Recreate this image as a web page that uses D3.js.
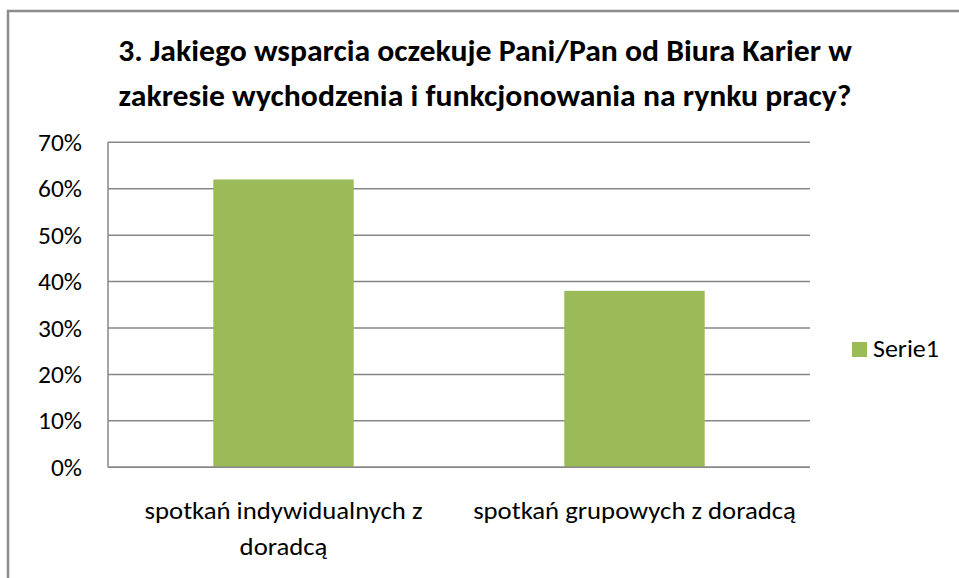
<!DOCTYPE html>
<html><head><meta charset="utf-8">
<script src="https://cdn.jsdelivr.net/npm/d3@7"></script>
<style>body{margin:0;background:#fff} svg{display:block}</style>
</head><body><svg id="c" width="959" height="578"></svg>
<script>
// ---- data ----
const titleLines = ["3. Jakiego wsparcia oczekuje Pani/Pan od Biura Karier w", "zakresie wychodzenia i funkcjonowania na rynku pracy?"];
const categories = ["spotkań indywidualnych z doradcą", "spotkań grupowych z doradcą"];
const values = [0.62, 0.38];
const seriesName = "Serie1";
const yTicks = [0, 0.1, 0.2, 0.3, 0.4, 0.5, 0.6, 0.7];

// ---- layout ----
const FONT = "Carlito, Calibri, Lato, sans-serif";
const plot = {left: 108, right: 810, top: 142.3, bottom: 467.3};
const svg = d3.select("#c");

function measure(str, size, weight) {
  const t = svg.append("text").attr("font-family", FONT).attr("font-size", size)
    .attr("font-weight", weight || "normal").text(str);
  const w = t.node().getComputedTextLength(); t.remove(); return w;
}
function factor(str, size, weight, target) { return target / measure(str, size, weight); }
function label(parent, str, x, y, size, weight, anchor, f) {
  return parent.append("text")
    .attr("transform", `translate(${x},${y}) scale(${f},1)`)
    .attr("text-anchor", anchor).attr("font-family", FONT)
    .attr("font-weight", weight).attr("font-size", size).attr("fill", "#000").text(str);
}

// outer border
svg.append("rect").attr("x", 8).attr("y", 11).attr("width", 1000).attr("height", 700)
  .attr("fill", "#fff").attr("stroke", "#8c8c8c").attr("stroke-width", 2.5);

// title
const TS = 31;
const tf = factor(titleLines[0], TS, "bold", 734);
const tg = svg.append("g");
titleLines.forEach((d, i) => label(tg, d, 485, 61 + i * 45, TS, "800", "middle", tf));

const x = d3.scaleBand().domain(categories).range([plot.left, plot.right])
  .paddingInner(0.6).paddingOuter(0.3);
const y = d3.scaleLinear().domain([0, 0.7]).range([plot.bottom, plot.top]);

// gridlines
svg.append("g").selectAll("line").data(yTicks).join("line")
  .attr("x1", plot.left).attr("x2", plot.right)
  .attr("y1", d => y(d)).attr("y2", d => y(d))
  .attr("stroke", "#878787").attr("stroke-width", 1.5);

// bars
svg.append("g").selectAll("rect").data(values).join("rect")
  .attr("x", (d, i) => x(categories[i])).attr("width", x.bandwidth())
  .attr("y", d => y(d)).attr("height", d => y(0) - y(d))
  .attr("fill", "#9BBB59");

// axis lines
svg.append("line").attr("x1", plot.left).attr("x2", plot.left)
  .attr("y1", plot.top).attr("y2", plot.bottom).attr("stroke", "#878787").attr("stroke-width", 1.5);
svg.append("line").attr("x1", plot.left).attr("x2", plot.right)
  .attr("y1", plot.bottom).attr("y2", plot.bottom).attr("stroke", "#878787").attr("stroke-width", 1.5);

// y tick labels
const LS = 25;
const fmt = d3.format(".0%");
const yf = factor(fmt(0.7), LS, "normal", 44);
const yg = svg.append("g");
yTicks.forEach(d => label(yg, fmt(d), 82, y(d) + LS * 0.34, LS, "normal", "end", yf));

// x labels (wrapped)
const xf = factor(categories[1], LS, "normal", 323);
function wrapWords(str, maxW) {
  const words = str.split(" "); const lines = []; let cur = "";
  words.forEach(w => {
    const test = cur ? cur + " " + w : w;
    if (measure(test, LS) * xf > maxW && cur) { lines.push(cur); cur = w; }
    else cur = test;
  });
  lines.push(cur); return lines;
}
const xg = svg.append("g");
categories.forEach(c => {
  wrapWords(c, 340).forEach((d, i) =>
    label(xg, d, x(c) + x.bandwidth() / 2, 519 + i * 36, LS, "normal", "middle", xf));
});

// legend
svg.append("rect").attr("x", 852).attr("y", 342).attr("width", 15).attr("height", 15).attr("fill", "#9BBB59");
const lf = factor(seriesName, LS, "normal", 66);
label(svg, seriesName, 873, 357, LS, "normal", "start", lf);
</script></body></html>
